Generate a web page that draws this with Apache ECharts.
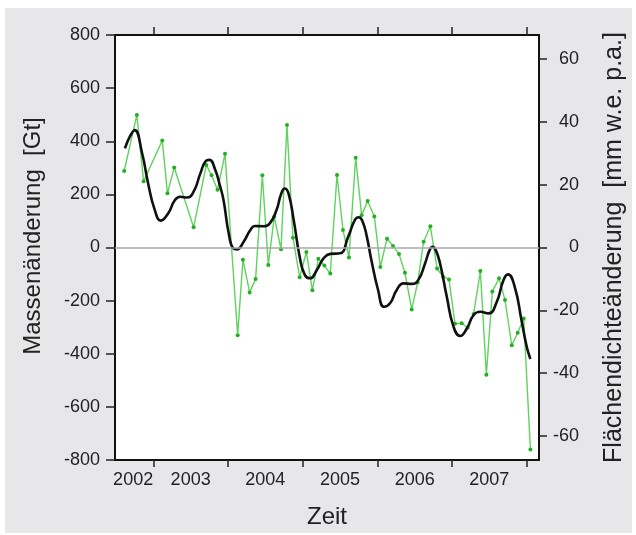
<!DOCTYPE html>
<html>
<head>
<meta charset="utf-8">
<script src="https://cdn.jsdelivr.net/npm/echarts@6/dist/echarts.min.js"></script>
<style>
html,body{margin:0;padding:0;background:#ffffff;}
#chart{width:636px;height:535px;}
</style>
</head>
<body>
<div id="chart"></div>
<script>
// Monthly mass change (green, Gt)
const greenYears = [2002.61, 2002.78, 2002.87, 2003.12, 2003.19, 2003.28, 2003.54, 2003.71, 2003.78, 2003.86,
  2003.96, 2004.13, 2004.20, 2004.29, 2004.37, 2004.46, 2004.54, 2004.62, 2004.71, 2004.79,
  2004.87, 2004.96, 2005.05, 2005.13, 2005.21, 2005.29, 2005.37, 2005.46, 2005.54, 2005.62,
  2005.71, 2005.79, 2005.87, 2005.96, 2006.04, 2006.13, 2006.21, 2006.29, 2006.37, 2006.46,
  2006.54, 2006.62, 2006.71, 2006.80, 2006.88, 2006.96, 2007.04, 2007.13, 2007.21, 2007.29,
  2007.38, 2007.46, 2007.54, 2007.63, 2007.71, 2007.80, 2007.88, 2007.96, 2008.05];
const greenValues = [288, 499, 249, 403, 204, 301, 76, 311, 272, 217,
  353, -330, -46, -169, -119, 272, -66, 116, -7, 461,
  37, -112, -17, -161, -42, -68, -98, 273, 66, -38,
  338, 121, 175, 117, -73, 33, 6, -24, -95, -233,
  -132, 22, 80, -79, -110, -120, -287, -285, -302, -250,
  -88, -479, -166, -116, -198, -368, -321, -267, -760];

// Smoothed curve (black, Gt)
const blackYears = [2002.62, 2002.69, 2002.75, 2002.85, 2002.93, 2003.02, 2003.10, 2003.20, 2003.29, 2003.36,
  2003.45, 2003.54, 2003.63, 2003.70, 2003.75, 2003.83, 2003.89, 2003.94, 2004.01, 2004.07, 2004.12,
  2004.21, 2004.30, 2004.36, 2004.47, 2004.56, 2004.65, 2004.71, 2004.76, 2004.81, 2004.88, 2004.96,
  2005.03, 2005.10, 2005.19, 2005.28, 2005.37, 2005.50, 2005.61, 2005.70, 2005.75, 2005.80, 2005.86, 2005.92,
  2006.01, 2006.09, 2006.17, 2006.26, 2006.35, 2006.46, 2006.55, 2006.64, 2006.70, 2006.74, 2006.78,
  2006.84, 2006.93, 2007.02, 2007.11, 2007.20, 2007.29, 2007.38, 2007.49, 2007.60, 2007.69,
  2007.75, 2007.84, 2007.93, 2008.00, 2008.05];
const blackValues = [373, 420, 442, 355, 242, 141, 101, 129, 179, 191,
  188, 210, 279, 325, 330, 292, 235, 179, 53, -3, -7,
  22, 66, 81, 80, 91, 141, 200, 222, 204, 104, -35,
  -104, -116, -85, -41, -24, -22, 41, 104, 114, 100, 40, -47,
  -160, -223, -210, -160, -135, -137, -122, -59, -10, 3, -8,
  -60, -185, -298, -333, -304, -254, -242, -248, -204, -122,
  -101, -148, -273, -373, -420];

// Axis ticks and labels
const xTickYears = [2003, 2004, 2005, 2006, 2007, 2008];
const xLabelPositions = [2002.73, 2003.5, 2004.5, 2005.5, 2006.5, 2007.5];
const rightTicks = [-60, -40, -20, 0, 20, 40, 60];
const xMin = 2002.487, xMax = 2008.165;
const leftMin = -800, leftMax = 800, leftInterval = 200;
const rightMin = -67.7, rightMax = 67.7;

const zip = (a, b) => a.map((v, i) => [v, b[i]]);
const FONT = 'Liberation Sans, Arial, Helvetica, sans-serif';
const TXT = '#222';

const chart = echarts.init(document.getElementById('chart'), null, {renderer: 'canvas'});
chart.setOption({
  animation: false,
  backgroundColor: 'transparent',
  graphic: [
    {type: 'rect', z: -10, silent: true, shape: {x: 5, y: 8, width: 627, height: 525}, style: {fill: '#e7e7e9'}},
    {type: 'text', x: 33, y: 236, rotation: Math.PI / 2, silent: true,
      style: {text: 'Massenänderung  [Gt]', x: 0, y: 0, align: 'center', verticalAlign: 'middle', fill: TXT, font: '24px ' + FONT}},
    {type: 'text', x: 614, y: 247.5, rotation: Math.PI / 2, silent: true,
      style: {text: 'Flächendichteänderung  [mm w.e. p.a.]', x: 0, y: 0, align: 'center', verticalAlign: 'middle', fill: TXT, font: '25px ' + FONT}},
    {type: 'text', x: 327, y: 517, silent: true,
      style: {text: 'Zeit', x: 0, y: 0, align: 'center', verticalAlign: 'middle', fill: TXT, font: '24px ' + FONT}}
  ],
  grid: {left: 115, top: 35, right: 97, bottom: 75, show: true, backgroundColor: '#ffffff', borderWidth: 0, containLabel: false},
  xAxis: [
    {type: 'value', position: 'bottom', min: xMin, max: xMax,
      axisLine: {show: true, onZero: false, lineStyle: {color: '#111', width: 2}},
      axisTick: {show: true, inside: false, length: 7, customValues: xTickYears, lineStyle: {color: '#222', width: 1.5}},
      axisLabel: {show: true, customValues: xLabelPositions, formatter: v => String(Math.floor(v)), margin: 11,
        color: TXT, fontSize: 18, fontFamily: FONT},
      splitLine: {show: false}},
    {type: 'value', position: 'top', min: xMin, max: xMax,
      axisLine: {show: true, onZero: false, lineStyle: {color: '#111', width: 2}},
      axisTick: {show: true, inside: false, length: 8, customValues: xTickYears, lineStyle: {color: '#222', width: 1.5}},
      axisLabel: {show: false},
      splitLine: {show: false}}
  ],
  yAxis: [
    {type: 'value', position: 'left', min: leftMin, max: leftMax, interval: leftInterval,
      axisLine: {show: true, onZero: false, lineStyle: {color: '#111', width: 2}},
      axisTick: {show: true, inside: false, length: 9, lineStyle: {color: '#222', width: 1.5}},
      axisLabel: {show: true, margin: 15, color: TXT, fontSize: 18, fontFamily: FONT},
      splitLine: {show: false}},
    {type: 'value', position: 'right', min: rightMin, max: rightMax,
      axisLine: {show: true, onZero: false, lineStyle: {color: '#111', width: 2}},
      axisTick: {show: true, inside: false, length: 8, customValues: rightTicks, lineStyle: {color: '#222', width: 1.5}},
      axisLabel: {show: true, customValues: rightTicks, align: 'right', margin: 40, color: TXT, fontSize: 18, fontFamily: FONT},
      splitLine: {show: false}}
  ],
  series: [
    {type: 'line', xAxisIndex: 0, yAxisIndex: 0, data: [], z: 1, silent: true,
      markLine: {silent: true, symbol: ['none', 'none'], label: {show: false},
        lineStyle: {color: '#a8a8a8', type: 'solid', width: 1.5}, data: [{yAxis: 0}]}},
    {name: 'monthly', type: 'line', xAxisIndex: 0, yAxisIndex: 0, z: 2,
      data: zip(greenYears, greenValues),
      symbol: 'circle', symbolSize: 4, showSymbol: true,
      itemStyle: {color: '#22b022'},
      lineStyle: {color: '#5fd35f', width: 1.4}},
    {name: 'smooth', type: 'line', xAxisIndex: 0, yAxisIndex: 0, z: 3,
      data: zip(blackYears, blackValues), smooth: 0.5, showSymbol: false, symbol: 'none',
      lineStyle: {color: '#111', width: 2.6}}
  ]
});
</script>
</body>
</html>
